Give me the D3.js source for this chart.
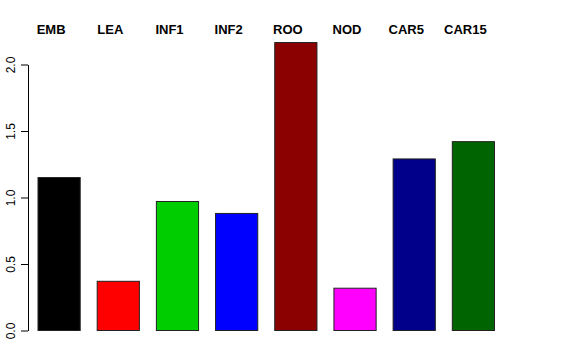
<!DOCTYPE html>
<html>
<head>
<meta charset="utf-8">
<title>Barplot</title>
<script src="https://cdn.jsdelivr.net/npm/d3@7"></script>
<style>
  body { margin: 0; background: #fff; }
  text { font-family: "Liberation Sans", Arial, Helvetica, sans-serif; }
</style>
</head>
<body>
<script>
    // data
    var categories = ["EMB", "LEA", "INF1", "INF2", "ROO", "NOD", "CAR5", "CAR15"];
    var values = [1.15, 0.37, 0.97, 0.88, 2.165, 0.318, 1.29, 1.42];
    var barColors = ["#000000", "#FF0000", "#00CD00", "#0000FF", "#8B0000", "#FF00FF", "#00008B", "#006400"];
    var yTicks = [0, 0.5, 1.0, 1.5, 2.0];

    var svgWidth = 576, svgHeight = 360;

    var svg = d3.select("body").append("svg")
        .attr("width", svgWidth)
        .attr("height", svgHeight);

    var x = d3.scaleBand()
        .domain(categories)
        .range([38, 494.5])
        .paddingInner(0.287)
        .paddingOuter(0);

    // axis spans 0..2 only, like R's axis()
    var y = d3.scaleLinear().domain([0, 2]).range([330.5, 64.5]);

    svg.selectAll("rect.bar")
        .data(values)
        .enter()
        .append("rect")
        .attr("class", "bar")
        .attr("x", function(d, i) { return x(categories[i]); })
        .attr("y", function(d) { return y(d); })
        .attr("width", x.bandwidth())
        .attr("height", function(d) { return y(0) - y(d); })
        .attr("fill", function(d, i) { return barColors[i]; })
        .attr("stroke", "#222")
        .attr("stroke-width", 1);

    // labels on top
    svg.selectAll("text.lab")
        .data(categories)
        .enter()
        .append("text")
        .attr("class", "lab")
        .attr("x", function(d) { return x(d) + x.bandwidth() / 2 - 8; })
        .attr("y", 34)
        .attr("text-anchor", "middle")
        .attr("font-weight", "bold")
        .attr("font-size", "13px")
        .text(function(d) { return d; });

    var axis = svg.append("g")
        .attr("transform", "translate(28,0)")
        .call(d3.axisLeft(y).tickValues(yTicks).tickFormat(d3.format(".1f"))
            .tickSizeOuter(0).tickSizeInner(7).tickPadding(10));

    axis.select(".domain").attr("stroke", "#000");
    axis.selectAll(".tick line").attr("stroke", "#000");
    axis.selectAll(".tick text")
        .attr("font-size", "12px")
        .attr("fill", "#000")
        .attr("text-anchor", "middle")
        .attr("x", 0)
        .attr("dy", 0)
        .attr("transform", "translate(-13,0) rotate(-90)");
</script>
</body>
</html>
